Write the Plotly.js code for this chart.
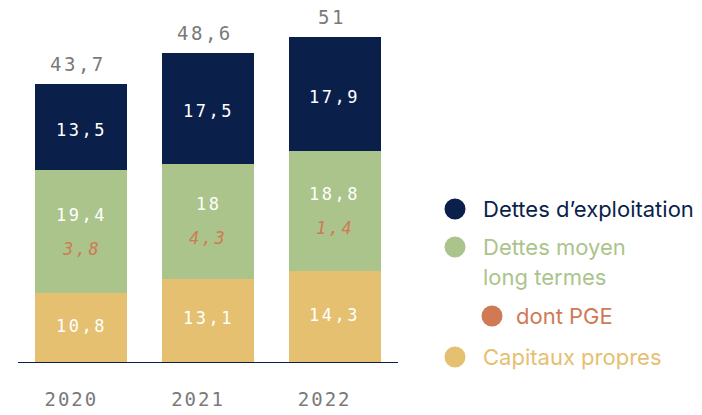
<!DOCTYPE html>
<html>
<head>
<meta charset="utf-8">
<script src="https://cdn.plot.ly/plotly-3.0.1.min.js"></script>
<style>
  html, body { margin: 0; padding: 0; background: #fff; }
  #chart { width: 702px; height: 415px; }
  text.annotation-text[style*="Mono"] { letter-spacing: 2.5px; }
  .xtick text { letter-spacing: 2px; }
</style>
</head>
<body>
<div id="chart"></div>
<script>
// ---- data ----
var years = ["2020", "2021", "2022"];
var capitauxPropres = [10.8, 13.1, 14.3];
var dettesMoyenLong = [19.4, 18, 18.8];
var dettesExploitation = [13.5, 17.5, 17.9];
var dontPGE = [3.8, 4.3, 1.4];
var totals = [43.7, 48.6, 51];

var legendLabels = ["Dettes d\u2019exploitation", "Dettes moyen", "long termes", "dont PGE", "Capitaux propres"];

// ---- styling ----
var NAVY = "#0b1f4b", GREEN = "#abc48b", YELLOW = "#e5c070", ORANGE = "#cf7a55", GRAY = "#7a7a7a";
var MONO = "DejaVu Sans Mono";
var SANS = "Inter";

function fr(v) { return String(v).replace(".", ","); }

var traces = [
  { type: "bar", x: years, y: capitauxPropres, marker: { color: YELLOW }, hoverinfo: "none", name: "Capitaux propres" },
  { type: "bar", x: years, y: dettesMoyenLong, marker: { color: GREEN }, hoverinfo: "none", name: "Dettes moyen long termes" },
  { type: "bar", x: years, y: dettesExploitation, marker: { color: NAVY }, hoverinfo: "none", name: "Dettes d'exploitation" }
];

var ann = [];
for (var i = 0; i < years.length; i++) {
  var c = capitauxPropres[i], d = dettesMoyenLong[i], e = dettesExploitation[i];
  ann.push({ x: i, y: c / 2, xref: "x", yref: "y", text: fr(c), showarrow: false,
    font: { family: MONO, size: 17, color: "#ffffff" }, yshift: 2 });
  ann.push({ x: i, y: c + d / 2, xref: "x", yref: "y", text: fr(d), showarrow: false,
    font: { family: MONO, size: 17, color: "#ffffff" }, yshift: 17 });
  ann.push({ x: i, y: c + d / 2, xref: "x", yref: "y", text: fr(dontPGE[i]), showarrow: false,
    font: { family: MONO, size: 17, color: ORANGE, style: "italic" }, yshift: -17 });
  ann.push({ x: i, y: c + d + e / 2, xref: "x", yref: "y", text: fr(e), showarrow: false,
    font: { family: MONO, size: 17, color: "#ffffff" }, yshift: -3 });
  ann.push({ x: i, y: totals[i], xref: "x", yref: "y", text: fr(totals[i]), showarrow: false,
    font: { family: MONO, size: 19, color: GRAY }, yshift: 20, xshift: -3 });
}

// legend (custom), positions in pixels converted to paper coords
var L = 18, W = 380, B = 362, H = 350;
function px(xp) { return (xp - L) / W; }
function py(yp) { return (B - yp) / H; }

var legendItems = [
  { dot: 455, tx: 481, y: 209, color: NAVY, label: legendLabels[0], showDot: true },
  { dot: 455, tx: 481, y: 247, color: GREEN, label: legendLabels[1], showDot: true },
  { dot: 455, tx: 481, y: 277, color: GREEN, label: legendLabels[2], showDot: false },
  { dot: 492, tx: 514, y: 316, color: ORANGE, label: legendLabels[3], showDot: true },
  { dot: 455, tx: 481, y: 357, color: YELLOW, label: legendLabels[4], showDot: true }
];
var shapes = [];
legendItems.forEach(function (it) {
  ann.push({ x: px(it.tx), y: py(it.y), xref: "paper", yref: "paper", xanchor: "left", yanchor: "middle",
    text: it.label, showarrow: false, font: { family: SANS, size: 22, color: it.color } });
  if (it.showDot) {
    shapes.push({ type: "circle", xref: "paper", yref: "paper", xsizemode: "pixel", ysizemode: "pixel",
      xanchor: px(it.dot), yanchor: py(it.y), x0: -10.5, x1: 10.5, y0: -10.5, y1: 10.5,
      fillcolor: it.color, line: { width: 0 } });
  }
});

var layout = {
  width: 702, height: 415,
  margin: { l: L, r: 702 - L - W, t: B - H, b: 415 - B },
  barmode: "stack",
  bargap: 0.275,
  showlegend: false,
  paper_bgcolor: "#ffffff", plot_bgcolor: "#ffffff",
  xaxis: {
    type: "category", range: [-0.5, 2.5], autorange: false, showline: true, linecolor: NAVY, linewidth: 1,
    showgrid: false, zeroline: false, ticks: "outside", ticklen: 20, tickcolor: "rgba(0,0,0,0)",
    ticklabelshift: -10,
    tickfont: { family: MONO, size: 19, color: GRAY }, fixedrange: true
  },
  yaxis: { visible: false, range: [0, 55], autorange: false, fixedrange: true },
  annotations: ann,
  shapes: shapes
};

Plotly.newPlot("chart", traces, layout, { displayModeBar: false, staticPlot: true });
</script>
</body>
</html>
